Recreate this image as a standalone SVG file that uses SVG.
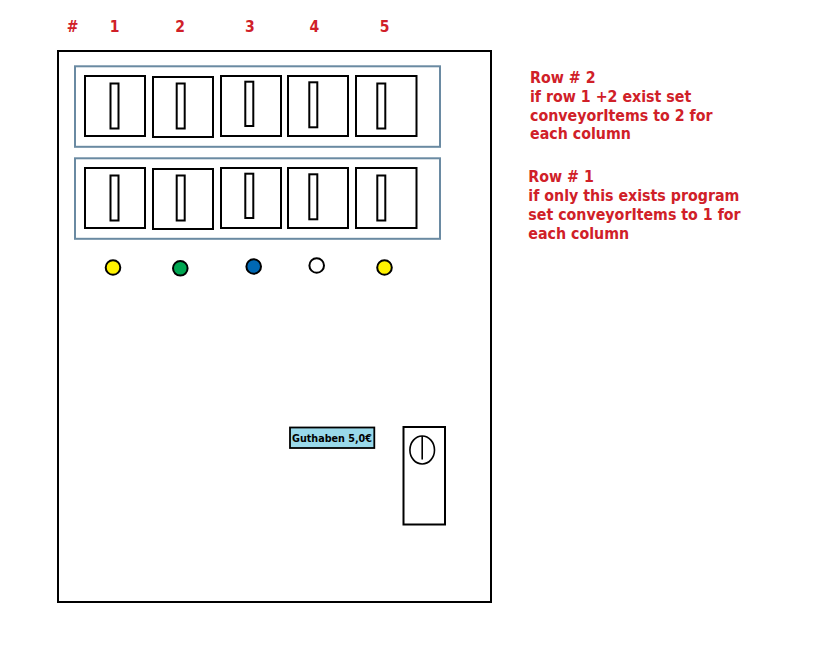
<svg xmlns="http://www.w3.org/2000/svg" width="818" height="652" viewBox="0 0 818 652">
<style>
.red{fill:#d02028;font-family:"DejaVu Sans Condensed","DejaVu Sans",Verdana,sans-serif;font-weight:bold}
.hdr{font-size:15.5px;text-anchor:middle}
.note{font-size:15.8px}
.panel{fill:#fff;stroke:#6a8aa2;stroke-width:2}
.cell{fill:#fff;stroke:#000;stroke-width:2}
.slot{fill:#fff;stroke:#000;stroke-width:2}
.led{stroke:#000;stroke-width:2}
</style>
<rect width="818" height="652" fill="#fff"/>
<g id="header">
<text class="red hdr" x="72.5" y="31.7">#</text>
<text class="red hdr" x="114.7" y="31.7">1</text>
<text class="red hdr" x="180.2" y="31.7">2</text>
<text class="red hdr" x="249.8" y="31.7">3</text>
<text class="red hdr" x="314.3" y="31.7">4</text>
<text class="red hdr" x="384.5" y="31.7">5</text>
</g>
<g id="machine">
<rect x="58" y="51" width="433" height="551" fill="#fff" stroke="#000" stroke-width="2"/>
</g>
<g id="row2">
<rect class="panel" x="75" y="66.3" width="365" height="80.5"/>
<rect class="cell" x="85" y="76" width="60" height="60"/>
<rect class="slot" x="110.5" y="83.5" width="8" height="45"/>
<rect class="cell" x="153" y="77" width="60" height="60"/>
<rect class="slot" x="176.7" y="83.5" width="8" height="45"/>
<rect class="cell" x="221" y="76" width="60" height="60"/>
<rect class="slot" x="245.3" y="81.7" width="8" height="44.3"/>
<rect class="cell" x="288" y="76" width="60" height="60"/>
<rect class="slot" x="309.3" y="82.3" width="8" height="45"/>
<rect class="cell" x="356" y="76" width="60.5" height="60"/>
<rect class="slot" x="377.3" y="83.5" width="8" height="45"/>
</g>
<g id="row1">
<rect class="panel" x="75" y="158.3" width="365" height="80.5"/>
<rect class="cell" x="85" y="168" width="60" height="60"/>
<rect class="slot" x="110.5" y="175.5" width="8" height="45"/>
<rect class="cell" x="153" y="169" width="60" height="60"/>
<rect class="slot" x="176.7" y="175.5" width="8" height="45"/>
<rect class="cell" x="221" y="168" width="60" height="60"/>
<rect class="slot" x="245.3" y="173.7" width="8" height="44.3"/>
<rect class="cell" x="288" y="168" width="60" height="60"/>
<rect class="slot" x="309.3" y="174.3" width="8" height="45"/>
<rect class="cell" x="356" y="168" width="60.5" height="60"/>
<rect class="slot" x="377.3" y="175.5" width="8" height="45"/>
</g>
<g id="leds">
<circle class="led" cx="113" cy="267.5" r="7.3" fill="#fff200"/>
<circle class="led" cx="180.3" cy="268.3" r="7.3" fill="#00a651"/>
<circle class="led" cx="253.7" cy="266.5" r="7.3" fill="#0068b4"/>
<circle class="led" cx="316.7" cy="265.5" r="7.3" fill="#fff"/>
<circle class="led" cx="384.5" cy="267.5" r="7.3" fill="#fff200"/>
</g>
<g id="credit">
<rect x="290" y="427.5" width="84.3" height="20.5" fill="#99d9ea" stroke="#000" stroke-width="1.8"/>
<text x="332" y="442" font-family="'DejaVu Sans Condensed','DejaVu Sans',Verdana,sans-serif" font-weight="bold" font-size="11" text-anchor="middle" textLength="80" lengthAdjust="spacingAndGlyphs" fill="#000">Guthaben 5,0€</text>
</g>
<g id="coin">
<rect x="403.5" y="427" width="41.5" height="97.5" fill="#fff" stroke="#000" stroke-width="2"/>
<ellipse cx="422.2" cy="450" rx="12.3" ry="14" fill="#fff" stroke="#000" stroke-width="1.6"/>
<line x1="422.2" y1="436" x2="422.2" y2="459.5" stroke="#000" stroke-width="1.6"/>
</g>
<g id="note2">
<text class="red note" x="530" y="82.7">Row # 2</text>
<text class="red note" x="530" y="101.7">if row 1 +2 exist set</text>
<text class="red note" x="530" y="120.5">conveyorItems to 2 for</text>
<text class="red note" x="530" y="139.3">each column</text>
</g>
<g id="note1">
<text class="red note" x="528.3" y="182.3">Row # 1</text>
<text class="red note" x="528.3" y="201.3">if only this exists program</text>
<text class="red note" x="528.3" y="220.3">set conveyorItems to 1 for</text>
<text class="red note" x="528.3" y="239.3">each column</text>
</g>
</svg>
